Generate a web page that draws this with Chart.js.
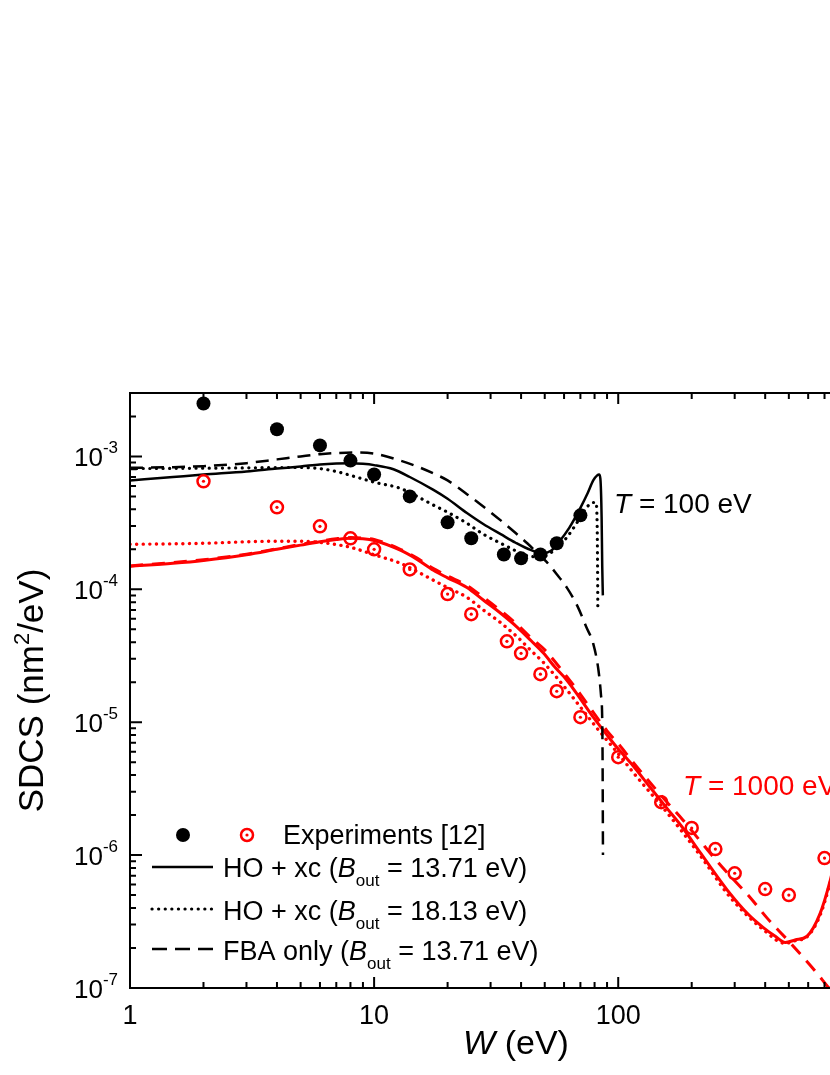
<!DOCTYPE html>
<html>
<head>
<meta charset="utf-8">
<script src="https://cdn.jsdelivr.net/npm/chart.js@4.4.1/dist/chart.umd.min.js"></script>
<style>
html, body { margin: 0; padding: 0; background: #fff; overflow: hidden; }
</style>
</head>
<body>
<canvas id="sdcs" width="900" height="1075"></canvas>
<script>
// Experiments [12]
const expW100 = [2, 4, 6, 8, 10, 14, 20, 25, 34, 40, 48, 56, 70];
const expSdcs100 = [2.5e-3, 1.6e-3, 1.21e-3, 9.3e-4, 7.3e-4, 5.0e-4, 3.19e-4, 2.42e-4, 1.83e-4, 1.71e-4, 1.83e-4, 2.22e-4, 3.6e-4];
const expW1000 = [2, 4, 6, 8, 10, 14, 20, 25, 35, 40, 48, 56, 70, 100, 150, 200, 250, 300, 400, 500, 700];
const expSdcs1000 = [6.5e-4, 4.14e-4, 2.98e-4, 2.42e-4, 2.0e-4, 1.41e-4, 9.2e-5, 6.5e-5, 4.06e-5, 3.3e-5, 2.3e-5, 1.71e-5, 1.09e-5, 5.46e-6, 2.5e-6, 1.6e-6, 1.11e-6, 7.3e-7, 5.55e-7, 5.0e-7, 9.5e-7];

// T = 100 eV
const wHo100a = [1, 1.5, 2, 3, 4, 5, 6, 7, 8, 9, 10, 12, 14, 17.5, 20, 24, 28, 33, 38, 44, 49, 53, 57.5, 63, 70, 75, 79, 82, 83.5, 84.5, 85.5, 86, 86.5];
const sHo100a = [6.6e-4, 7.0e-4, 7.3e-4, 7.7e-4, 8.1e-4, 8.4e-4, 8.7e-4, 8.85e-4, 8.9e-4, 8.8e-4, 8.6e-4, 8.0e-4, 7.0e-4, 5.6e-4, 4.8e-4, 3.75e-4, 3.1e-4, 2.6e-4, 2.24e-4, 1.97e-4, 1.87e-4, 1.95e-4, 2.3e-4, 2.9e-4, 4.1e-4, 5.3e-4, 6.6e-4, 7.2e-4, 7.3e-4, 6.8e-4, 3.5e-4, 1.5e-4, 9.0e-5];
const wHo100b = [1, 2, 3, 4, 5, 6, 7, 8, 10, 12.8, 15, 17.5, 20, 24, 28, 33, 38, 42, 47, 51, 56, 61.6, 68, 74, 79, 81, 82, 82.3, 82.5];
const sHo100b = [8.1e-4, 8.15e-4, 8.2e-4, 8.25e-4, 8.25e-4, 8.1e-4, 7.7e-4, 7.2e-4, 6.4e-4, 5.75e-4, 5.0e-4, 4.3e-4, 3.8e-4, 3.14e-4, 2.6e-4, 2.22e-4, 1.95e-4, 1.8e-4, 1.75e-4, 1.8e-4, 2.05e-4, 2.46e-4, 3.2e-4, 4.1e-4, 4.5e-4, 4.5e-4, 3.0e-4, 1.5e-4, 7.2e-5];
const wFba100 = [1, 1.5, 2, 3, 4, 5, 6, 7, 8.5, 10, 12.8, 15, 17.5, 20, 24, 28, 33, 38, 42.4, 47, 51, 56, 61.6, 68, 74, 79, 83, 85, 86, 86.3, 86.6];
const sFba100 = [8.2e-4, 8.3e-4, 8.45e-4, 8.9e-4, 9.5e-4, 1.0e-3, 1.04e-3, 1.06e-3, 1.07e-3, 1.05e-3, 9.3e-4, 8.4e-4, 7.45e-4, 6.6e-4, 5.2e-4, 4.2e-4, 3.3e-4, 2.65e-4, 2.22e-4, 1.85e-4, 1.6e-4, 1.3e-4, 1.03e-4, 7.5e-5, 5.2e-5, 3.9e-5, 2.46e-5, 1.6e-5, 1.04e-5, 5e-6, 1.0e-6];

// T = 1000 eV
const wHo1000a = [1, 1.5, 2, 3, 4, 5, 6, 7, 8, 9, 10, 12.8, 15, 17.5, 20, 24, 28, 33, 38.5, 44, 49.5, 55, 61.6, 70, 79, 90, 98.5, 115, 134, 160, 184, 211, 238, 288, 340, 393, 440, 483, 530, 594, 670, 738, 790, 850];
const sHo1000a = [1.49e-4, 1.57e-4, 1.65e-4, 1.82e-4, 2.0e-4, 2.15e-4, 2.28e-4, 2.37e-4, 2.42e-4, 2.4e-4, 2.33e-4, 1.97e-4, 1.68e-4, 1.39e-4, 1.22e-4, 1.03e-4, 8.3e-5, 6.6e-5, 5.2e-5, 4.1e-5, 3.3e-5, 2.6e-5, 2.07e-5, 1.5e-5, 1.09e-5, 8.0e-6, 6.5e-6, 4.7e-6, 3.3e-6, 2.2e-6, 1.6e-6, 1.12e-6, 8.2e-7, 5.1e-7, 3.6e-7, 2.85e-7, 2.45e-7, 2.2e-7, 2.3e-7, 2.46e-7, 3.6e-7, 6.4e-7, 1.1e-6, 2.0e-6];
const wHo1000b = [1, 2, 3, 4, 5, 6, 7, 8, 10, 12.8, 15, 17.5, 20, 24, 28, 33, 38.5, 44, 50, 61.6, 70, 84, 100, 115, 158, 217, 288, 393, 483, 530, 594, 670, 738, 790, 850];
const sHo1000b = [2.18e-4, 2.22e-4, 2.28e-4, 2.3e-4, 2.3e-4, 2.25e-4, 2.17e-4, 2.07e-4, 1.82e-4, 1.57e-4, 1.36e-4, 1.17e-4, 1.03e-4, 8.7e-5, 7.0e-5, 5.6e-5, 4.4e-5, 3.45e-5, 2.75e-5, 1.75e-5, 1.3e-5, 8.5e-6, 5.8e-6, 4.2e-6, 2.1e-6, 9.9e-7, 4.8e-7, 2.75e-7, 2.17e-7, 2.27e-7, 2.43e-7, 3.5e-7, 6.2e-7, 1.05e-6, 1.9e-6];
const wFba1000 = [1, 2, 3, 4, 5, 6, 7, 8, 9, 10, 12.8, 15, 17.5, 20, 24, 28, 33, 38.5, 44, 50, 61.6, 70, 80, 90, 100, 115, 139, 160, 184, 215, 250, 300, 347, 405, 505, 650, 730, 1000];
const sFba1000 = [1.5e-4, 1.67e-4, 1.84e-4, 2.02e-4, 2.18e-4, 2.3e-4, 2.4e-4, 2.45e-4, 2.43e-4, 2.37e-4, 2.0e-4, 1.72e-4, 1.43e-4, 1.26e-4, 1.07e-4, 8.7e-5, 6.9e-5, 5.45e-5, 4.3e-5, 3.5e-5, 2.2e-5, 1.62e-5, 1.15e-5, 8.6e-6, 6.9e-6, 5.0e-6, 3.3e-6, 2.45e-6, 1.84e-6, 1.3e-6, 9.3e-7, 6.4e-7, 4.8e-7, 3.4e-7, 2.2e-7, 1.3e-7, 1.0e-7, 5.5e-8];

// axis ticks
const xTickLabels = ['1', '10', '100', '1000'];
const yTickExp = [-7, -6, -5, -4, -3];

const FONT = '"Liberation Sans", Arial, Helvetica, sans-serif';
const RED = '#ff0000';
const DOT = [0.1, 6.5];
const DASH = [13, 8];

function font(size, italic) {
    return (italic ? 'italic ' : '') + size + 'px ' + FONT;
}

function drawRich(ctx, x, y, parts, align) {
    let w = 0;
    parts.forEach(p => { ctx.font = font(p.size, p.italic); p.w = ctx.measureText(p.t).width; w += p.w; });
    let cx = align === 'right' ? x - w : align === 'center' ? x - w / 2 : x;
    parts.forEach(p => {
        ctx.font = font(p.size, p.italic);
        ctx.fillText(p.t, cx, y + (p.dy || 0));
        cx += p.w;
    });
}

const pts = (xs, ys) => xs.map((x, i) => ({ x: x, y: ys[i] }));

function curve(xs, ys, color, width, dash, cap) {
    return {
        data: pts(xs, ys),
        showLine: true,
        pointRadius: 0,
        borderColor: color,
        borderWidth: width,
        borderDash: dash || [],
        borderCapStyle: cap || 'butt',
        fill: false,
        cubicInterpolationMode: 'monotone',
        order: 2
    };
}

function legendLine(ctx, y, dash, cap, width) {
    ctx.save();
    ctx.strokeStyle = '#000';
    ctx.lineWidth = width;
    ctx.setLineDash(dash);
    ctx.lineCap = cap;
    ctx.beginPath();
    ctx.moveTo(152, y);
    ctx.lineTo(213, y);
    ctx.stroke();
    ctx.restore();
}

const decorations = {
    id: 'decorations',
    afterDatasetsDraw(chart) {
        const ctx = chart.ctx;
        const a = chart.chartArea;
        const xs = chart.scales.x;
        const ys = chart.scales.y;
        ctx.save();
        ctx.strokeStyle = '#000';
        ctx.fillStyle = '#000';
        ctx.lineWidth = 2;
        ctx.strokeRect(a.left, a.top, a.right - a.left, a.bottom - a.top);

        // inward ticks
        ctx.beginPath();
        for (let e = 0; e <= 3; e++) {
            for (let k = 1; k <= 9; k++) {
                const v = k * Math.pow(10, e);
                if (v > xs.max) break;
                const px = xs.getPixelForValue(v);
                const len = k === 1 ? 11 : 6;
                ctx.moveTo(px, a.bottom); ctx.lineTo(px, a.bottom - len);
                ctx.moveTo(px, a.top); ctx.lineTo(px, a.top + len);
            }
        }
        for (let e = -7; e <= -3; e++) {
            for (let k = 1; k <= 9; k++) {
                const v = k * Math.pow(10, e);
                if (v > ys.max * 1.0001) break;
                const py = ys.getPixelForValue(v);
                const len = k === 1 ? 12 : 6;
                ctx.moveTo(a.left, py); ctx.lineTo(a.left + len, py);
                ctx.moveTo(a.right, py); ctx.lineTo(a.right - len, py);
            }
        }
        ctx.stroke();

        // tick labels
        ctx.textBaseline = 'alphabetic';
        xTickLabels.forEach(t => {
            drawRich(ctx, xs.getPixelForValue(Number(t)), 1024, [{ t: t, size: 27 }], 'center');
        });
        yTickExp.forEach(e => {
            const py = ys.getPixelForValue(Math.pow(10, e));
            drawRich(ctx, 118, py + 10, [{ t: '10', size: 26 }, { t: String(e), size: 17, dy: -13 }], 'right');
        });

        // axis titles
        drawRich(ctx, (a.left + a.right) / 2 + 2, 1054, [{ t: 'W', size: 34, italic: true }, { t: ' (eV)', size: 34 }], 'center');
        ctx.save();
        ctx.translate(43, (a.top + a.bottom) / 2);
        ctx.rotate(-Math.PI / 2);
        drawRich(ctx, 0, 0, [{ t: 'SDCS (nm', size: 35 }, { t: '2', size: 22, dy: -14 }, { t: '/eV)', size: 35 }], 'center');
        ctx.restore();

        // curve labels
        drawRich(ctx, 614, 513, [{ t: 'T', size: 28, italic: true }, { t: ' = 100 eV', size: 28 }], 'left');
        ctx.fillStyle = RED;
        drawRich(ctx, 683, 795, [{ t: 'T', size: 28, italic: true }, { t: ' = 1000 eV', size: 28 }], 'left');

        // legend
        ctx.fillStyle = '#000';
        ctx.beginPath(); ctx.arc(183, 835, 7, 0, Math.PI * 2); ctx.fill();
        ctx.strokeStyle = RED; ctx.lineWidth = 2.5;
        ctx.beginPath(); ctx.arc(247, 835, 6, 0, Math.PI * 2); ctx.stroke();
        ctx.fillStyle = RED;
        ctx.beginPath(); ctx.arc(247, 835, 1.6, 0, Math.PI * 2); ctx.fill();
        ctx.fillStyle = '#000';
        drawRich(ctx, 283, 844, [{ t: 'Experiments [12]', size: 27 }], 'left');

        legendLine(ctx, 867, [], 'butt', 2.5);
        drawRich(ctx, 223, 877, [{ t: 'HO + xc (', size: 27 }, { t: 'B', size: 27, italic: true }, { t: 'out', size: 17, dy: 9 }, { t: ' = 13.71 eV)', size: 27 }], 'left');
        legendLine(ctx, 909, DOT, 'round', 3.2);
        drawRich(ctx, 223, 920, [{ t: 'HO + xc (', size: 27 }, { t: 'B', size: 27, italic: true }, { t: 'out', size: 17, dy: 9 }, { t: ' = 18.13 eV)', size: 27 }], 'left');
        legendLine(ctx, 949, [15, 8], 'butt', 2.5);
        drawRich(ctx, 223, 960, [{ t: 'FBA only (', size: 27 }, { t: 'B', size: 27, italic: true }, { t: 'out', size: 17, dy: 9 }, { t: ' = 13.71 eV)', size: 27 }], 'left');
        ctx.restore();
    }
};

new Chart(document.getElementById('sdcs').getContext('2d'), {
    type: 'scatter',
    data: {
        datasets: [
            { data: pts(expW100, expSdcs100), showLine: false, pointRadius: 7, pointBackgroundColor: '#000', pointBorderWidth: 0, order: 0 },
            { data: pts(expW1000, expSdcs1000), showLine: false, pointRadius: 6, pointBorderColor: RED, pointBorderWidth: 2.5, pointBackgroundColor: 'rgba(0,0,0,0)', order: 0 },
            { data: pts(expW1000, expSdcs1000), showLine: false, pointRadius: 1.6, pointBackgroundColor: RED, pointBorderWidth: 0, order: 0 },
            curve(wHo100a, sHo100a, '#000', 2.5),
            curve(wHo100b, sHo100b, '#000', 3.2, DOT, 'round'),
            curve(wFba100, sFba100, '#000', 2.5, DASH),
            curve(wHo1000a, sHo1000a, RED, 3),
            curve(wHo1000b, sHo1000b, RED, 3.4, DOT, 'round'),
            curve(wFba1000, sFba1000, RED, 3, [13, 9])
        ]
    },
    options: {
        responsive: false,
        animation: false,
        devicePixelRatio: 1,
        events: [],
        layout: { autoPadding: false, padding: { left: 130, top: 393, right: 2, bottom: 87 } },
        plugins: { legend: { display: false }, tooltip: { enabled: false } },
        scales: {
            x: { type: 'logarithmic', min: 1, max: 1400, display: false },
            y: { type: 'logarithmic', min: 1e-7, max: 3e-3, display: false }
        }
    },
    plugins: [decorations]
});
</script>
</body>
</html>
